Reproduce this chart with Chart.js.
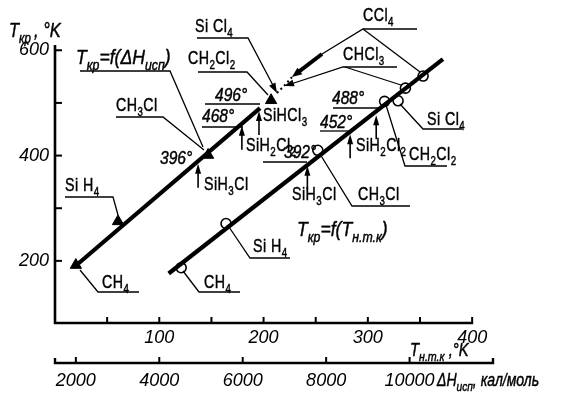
<!DOCTYPE html>
<html><head><meta charset="utf-8">
<script src="https://cdn.jsdelivr.net/npm/chart.js@4.4.0/dist/chart.umd.min.js"></script>
<style>html,body{margin:0;padding:0;background:#fff;}#wrap{width:562px;height:397px;}</style>
</head><body><div id="wrap"><canvas id="c" width="562" height="397"></canvas></div>
<script>
// ---- data: T_кр = f(ΔH_исп), triangles ----
const line1Names = ['CH4', 'SiH4', 'CH3Cl', 'CH2Cl2'];
const line1Heat = [2000, 3010, 5170, 6680];       // ΔH_исп, кал/моль
const line1Tcrit = [192, 275, 401, 505];          // T_кр, °K
const line1FitHeat = [2060, 6415];
const line1FitTcrit = [195, 490];
const line1ExtraNames = ['SiCl4', 'CHCl3', 'CCl4'];
const line1ExtraHeat = [6820, 6990, 7180];
const line1ExtraTcrit = [519, 532, 549];

// ---- data: T_кр = f(T_н.т.к), circles ----
const line2Names = ['CH4', 'SiH4', 'CH3Cl', 'CH2Cl2', 'SiCl4', 'CHCl3', 'CCl4'];
const line2Tboil = [121, 164, 252, 316, 329, 336, 353];
const line2Tcrit = [187, 271, 410, 503, 504, 528, 551];
const line2Carbon = [true, false, true, true, false, true, true];
const line2FitTboil = [109, 372];
const line2FitTcrit = [176, 583];

// ---- predicted silicon chlorohydrides (arrows) ----
const siNames = ['SiH3Cl', 'SiH2Cl2', 'SiHCl3'];
const siHeat = [4930, 5980, 6390];
const siTcritByHeat = [396, 468, 496];
const siTboil = [242, 283, 308];
const siTcritByBoil = [392, 452, 488];

// ---- tick labels ----
const tcritTicks = [200, 400, 600];
const tboilTicks = [100, 200, 300, 400];
const heatTicks = [2000, 4000, 6000, 8000, 10000];

const FAM = "'Liberation Sans', Arial, sans-serif";

function xy(xs, ys) { return xs.map((v, i) => ({ x: v, y: ys[i] })); }
const carbonIdx = line2Carbon.map((c, i) => c ? i : -1).filter(i => i >= 0);

// ---- text helpers ----
function richText(ctx, parts, x, y, size, italic, sx) {
  ctx.save(); ctx.translate(x, y); ctx.scale(sx, 1);
  ctx.lineWidth = 0.45; ctx.lineJoin = 'round';
  let cx = 0;
  for (const [txt, kind] of parts) {
    const sub = kind === 's';
    const sz = sub ? Math.round(size * 0.7) : size;
    ctx.font = (italic ? 'italic ' : '') + sz + 'px ' + FAM;
    const yy = sub ? size * 0.28 : 0;
    ctx.fillText(txt, cx, yy);
    ctx.strokeText(txt, cx, yy);
    cx += ctx.measureText(txt).width;
  }
  ctx.restore();
}
function chemParts(str) {
  const out = []; let cur = '', kind = null;
  for (const ch of str) {
    const k = /[0-9]/.test(ch) ? 's' : 'n';
    if (k !== kind && cur) { out.push([cur, kind]); cur = ''; }
    kind = k; cur += ch;
  }
  if (cur) out.push([cur, kind]);
  return out;
}
function line(ctx, pts, w) {
  ctx.lineWidth = w; ctx.beginPath();
  pts.forEach((p, i) => i ? ctx.lineTo(p[0], p[1]) : ctx.moveTo(p[0], p[1]));
  ctx.stroke();
}
function head(ctx, x0, y0, x1, y1, len, w) {
  const a = Math.atan2(y1 - y0, x1 - x0);
  ctx.beginPath(); ctx.moveTo(x1, y1);
  ctx.lineTo(x1 - len * Math.cos(a) + w * Math.sin(a), y1 - len * Math.sin(a) - w * Math.cos(a));
  ctx.lineTo(x1 - len * Math.cos(a) - w * Math.sin(a), y1 - len * Math.sin(a) + w * Math.cos(a));
  ctx.closePath(); ctx.fill();
}

// annotation layout (pixel positions of labels and leader lines)
const chemLabels = [
  ['CH3Cl', 116, 111], ['Si H4', 65, 191], ['CH4', 102, 288], ['CH4', 204, 288],
  ['Si H4', 253, 252], ['SiH3Cl', 204, 190], ['SiH3Cl', 292, 200], ['CH3Cl', 358, 200],
  ['SiH2Cl2', 246, 151], ['SiHCl3', 263, 121], ['CH2Cl2', 188, 64], ['Si Cl4', 195, 32],
  ['CCl4', 363, 21], ['CHCl3', 343, 60], ['SiH2Cl2', 356, 151], ['Si Cl4', 427, 125],
  ['CH2Cl2', 409, 160]
];
const degLabels = [['396°', 160, 164], ['468°', 202, 122], ['496°', 215, 101],
  ['392°', 284, 158], ['488°', 332, 104], ['452°', 320, 128]];
const leaders = [
  [[116, 117], [163, 117], [204, 150]],
  [[65, 197], [113, 197], [118, 215]],
  [[139, 292], [98, 292], [80, 270]],
  [[240, 292], [199, 292], [183, 271]],
  [[290, 258], [250, 258], [229, 227]],
  [[410, 206], [352, 206], [320, 154]],
  [[263, 162], [307, 162]],
  [[202, 127], [243, 127]],
  [[205, 104], [260, 104]],
  [[80, 71], [170, 71], [203, 147]],
  [[198, 72], [247, 72], [268, 95]],
  [[197, 38], [248, 38], [276, 91]],
  [[417, 29], [363, 29], [322, 54]],
  [[363, 29], [420, 72]],
  [[397, 67], [343, 67], [288, 85]],
  [[345, 67], [401, 85]],
  [[333, 108], [378, 108]],
  [[320, 131], [350, 131]],
  [[462, 129], [423, 129], [400, 104]],
  [[447, 166], [405, 166], [386, 105]]
];

const overlay = {
  id: 'overlay',
  beforeDraw(c) {
    const g = c.ctx; g.save(); g.fillStyle = '#fff'; g.fillRect(0, 0, c.width, c.height); g.restore();
  },
  afterDraw(c) {
    const g = c.ctx, S = c.scales, xs = S.x, x2 = S.x2, ys = S.y;
    g.save();
    g.strokeStyle = '#000'; g.fillStyle = '#000'; g.lineCap = 'butt';
    // axes
    const L = c.chartArea.left, B = c.chartArea.bottom;
    line(g, [[L, ys.getPixelForValue(610)], [L, B + 1]], 2.6);
    for (let v = 200; v <= 600; v += 100) {
      const py = ys.getPixelForValue(v); line(g, [[L, py], [L + 7, py]], 2);
    }
    line(g, [[L - 1, B], [x2.getPixelForValue(400) + 1, B]], 2.6);
    for (let v = 50; v <= 400; v += 50) {
      const px = x2.getPixelForValue(v); line(g, [[px, B], [px, B - 6]], 2);
    }
    const HB = xs.top;
    const hx0 = xs.getPixelForValue(1500), hx1 = xs.getPixelForValue(12000);
    line(g, [[hx0, HB - 5], [hx0, HB], [hx1, HB], [hx1, HB - 5]], 2.4);
    for (const v of heatTicks) {
      const px = xs.getPixelForValue(v); line(g, [[px, HB], [px, HB - 6]], 2);
    }
    // leaders
    g.lineJoin = 'miter';
    leaders.forEach(p => line(g, p, 1.3));
    const tip = i => [xs.getPixelForValue(line1ExtraHeat[i]), ys.getPixelForValue(line1ExtraTcrit[i])];
    let t = tip(0); head(g, 248, 38, t[0], t[1], 10, 3.5);
    t = tip(1); head(g, 343, 67, t[0], t[1], 10, 3.5);
    t = tip(2); line(g, [[322, 54], [t[0] + 5, t[1] - 4]], 4); head(g, 322, 54, t[0], t[1], 10, 4);
    // predicted arrows
    for (let i = 0; i < siNames.length; i++) {
      let px = xs.getPixelForValue(siHeat[i]), py = ys.getPixelForValue(siTcritByHeat[i]) + 6;
      line(g, [[px, py + 24], [px, py + 6]], 1.6); head(g, px, py + 24, px, py, 10, 3);
      px = x2.getPixelForValue(siTboil[i]); py = ys.getPixelForValue(siTcritByBoil[i]) + 6;
      line(g, [[px, py + 24], [px, py + 6]], 1.6); head(g, px, py + 24, px, py, 10, 3);
    }
    // texts
    g.textBaseline = 'alphabetic'; g.textAlign = 'left';
    g.letterSpacing = '0.6px';
    chemLabels.forEach(([s, x, y]) => richText(g, chemParts(s), x, y, 19, false, 0.75));
    g.letterSpacing = '0px';
    degLabels.forEach(([s, x, y]) => richText(g, [[s, 'n']], x, y, 19, true, 0.82));
    richText(g, [['T', 'n'], ['кр', 's'], ['\u2009, °K', 'n']], 9, 37, 20, true, 0.82);
    richText(g, [['T', 'n'], ['кр', 's'], ['=f(ΔH', 'n'], ['исп', 's'], [')', 'n']], 76, 64, 20, true, 0.88);
    richText(g, [['T', 'n'], ['кр', 's'], ['=f(T', 'n'], ['н.т.к', 's'], [')', 'n']], 297, 236, 20, true, 0.88);
    richText(g, [['T', 'n'], ['н.т.к', 's'], [' ,°K', 'n']], 410, 356, 18, true, 0.82);
    richText(g, [['ΔH', 'n'], ['исп', 's'], [', кал/моль', 'n']], 437, 386, 18, true, 0.78);
    g.restore();
  }
};

const tickFont = { family: FAM, size: 18, style: 'italic' };
const plain = v => String(v);
new Chart(document.getElementById('c'), {
  type: 'scatter',
  data: {
    datasets: [
      { data: xy(line1FitHeat, line1FitTcrit), xAxisID: 'x', yAxisID: 'y', showLine: true,
        borderColor: '#000', borderWidth: 4.2, pointRadius: 0 },
      { data: xy(line1ExtraHeat, line1ExtraTcrit), xAxisID: 'x', yAxisID: 'y', showLine: true,
        borderColor: '#000', borderWidth: 2, borderDash: [2, 3], pointRadius: 0 },
      { data: xy(line1Heat, line1Tcrit), xAxisID: 'x', yAxisID: 'y', showLine: false,
        pointStyle: 'triangle', pointRadius: 6.5, backgroundColor: '#000', borderColor: '#000', borderWidth: 1 },
      { data: xy(line2FitTboil, line2FitTcrit), xAxisID: 'x2', yAxisID: 'y', showLine: true,
        borderColor: '#000', borderWidth: 4.2, pointRadius: 0 },
      { data: xy(line2Tboil, line2Tcrit), xAxisID: 'x2', yAxisID: 'y', showLine: false,
        pointStyle: 'circle', pointRadius: 5, backgroundColor: '#fff', borderColor: '#000', borderWidth: 1.6 },
      { data: carbonIdx.map(i => ({ x: line2Tboil[i], y: line2Tcrit[i] })), xAxisID: 'x2', yAxisID: 'y', showLine: false,
        pointStyle: 'cross', pointRadius: 5, borderColor: '#000', borderWidth: 1.3 }
    ]
  },
  options: {
    responsive: false, animation: false, devicePixelRatio: 1,
    layout: { padding: { top: 45, right: 69, left: 0, bottom: 0 } },
    plugins: { legend: { display: false }, tooltip: { enabled: false } },
    scales: {
      y: {
        type: 'linear', position: 'left', min: 82, max: 610,
        afterFit: s => { s.width = 55; },
        afterBuildTicks: s => { s.ticks = tcritTicks.map(v => ({ value: v })); },
        grid: { display: false, drawTicks: false }, border: { display: false },
        ticks: { font: tickFont, color: '#000', padding: 6, autoSkip: false, callback: plain }
      },
      x2: {
        type: 'linear', position: 'bottom', weight: 0, min: 0, max: 420,
        afterFit: s => { s.height = 40; },
        afterBuildTicks: s => { s.ticks = tboilTicks.map(v => ({ value: v })); },
        grid: { display: false, drawTicks: false }, border: { display: false },
        ticks: { font: tickFont, color: '#000', padding: 4, autoSkip: false, maxRotation: 0, callback: plain }
      },
      x: {
        type: 'linear', position: 'bottom', weight: 1, min: 1500, max: 12000,
        afterFit: s => { s.height = 34; },
        afterBuildTicks: s => { s.ticks = heatTicks.map(v => ({ value: v })); },
        grid: { display: false, drawTicks: false }, border: { display: false },
        ticks: { font: tickFont, color: '#000', padding: 7, autoSkip: false, maxRotation: 0, callback: plain }
      }
    }
  },
  plugins: [overlay]
});
</script></body></html>
